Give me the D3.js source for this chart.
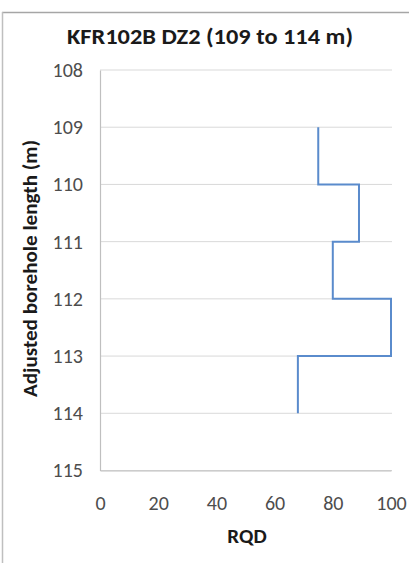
<!DOCTYPE html>
<html><head><meta charset="utf-8">
<script src="https://cdn.jsdelivr.net/npm/d3@7"></script>
<style>body{margin:0;background:#fff}svg{display:block}</style>
</head><body>
<svg id="c" width="409" height="563"></svg>
<script>
const depthFrom = [109, 110, 111, 112, 113];
const depthTo   = [110, 111, 112, 113, 114];
const rqd       = [75, 89, 80, 100, 68];
const yTicks = [108, 109, 110, 111, 112, 113, 114, 115];
const xTicks = [0, 20, 40, 60, 80, 100];
const title = "KFR102B DZ2 (109 to 114 m)";
const xTitle = "RQD";
const yTitle = "Adjusted borehole length (m)";

const svg = d3.select("#c");
const font = "Carlito, 'Open Sans', 'Liberation Sans', sans-serif";
const W = 409, H = 563;
const x = d3.scaleLinear().domain([0,100]).range([100, 391]);
const y = d3.scaleLinear().domain([108,115]).range([70, 470.5]);

// outer frame
svg.append("line").attr("x1",2).attr("x2",W).attr("y1",12.5).attr("y2",12.5).attr("stroke","#a6a6a6").attr("stroke-width",1.5);
svg.append("line").attr("x1",2.5).attr("x2",2.5).attr("y1",12).attr("y2",H).attr("stroke","#bfbfbf").attr("stroke-width",1.5);

// gridlines
svg.append("g").selectAll("line").data(yTicks).join("line")
  .attr("x1", x(0)).attr("x2", x(100)+1)
  .attr("y1", d=>y(d)).attr("y2", d=>y(d))
  .attr("stroke","#d9d9d9").attr("stroke-width",1);

// axes
const yAxis = svg.append("g").attr("transform",`translate(${x(0)},0)`)
  .call(d3.axisLeft(y).tickValues(yTicks).tickSize(0).tickPadding(17).tickFormat(d3.format("d")));
yAxis.select(".domain").attr("stroke","#bfbfbf").attr("stroke-width",1.2);
yAxis.selectAll("text").attr("font-family",font).attr("font-size",20).attr("fill","#4d4d4d");

const xAxis = svg.append("g").attr("transform",`translate(0,${y(115)})`)
  .call(d3.axisBottom(x).tickValues(xTicks).tickSize(0).tickPadding(25));
xAxis.select(".domain").attr("stroke","#bfbfbf").attr("stroke-width",1.2);
xAxis.selectAll("text").attr("font-family",font).attr("font-size",20).attr("fill","#4d4d4d");

// step line
const pts = [];
rqd.forEach((v,i)=>{ pts.push([v, depthFrom[i]]); pts.push([v, depthTo[i]]); });
svg.append("path").datum(pts)
  .attr("fill","none").attr("stroke","#5a8bcc").attr("stroke-width",2)
  .attr("d", d3.line().x(d=>x(d[0])).y(d=>y(d[1])));

// titles
svg.append("text").attr("x",210).attr("y",44).attr("text-anchor","middle")
  .attr("font-family",font).attr("font-weight","bold").attr("font-size",22)
  .attr("textLength",286).attr("lengthAdjust","spacingAndGlyphs")
  .attr("fill","#1a1a1a").text(title);
svg.append("text").attr("x",247).attr("y",543).attr("text-anchor","middle")
  .attr("font-family",font).attr("font-weight","bold").attr("font-size",21).attr("fill","#1a1a1a").text(xTitle);
svg.append("text").attr("transform","translate(37,268.5) rotate(-90)").attr("text-anchor","middle")
  .attr("font-family",font).attr("font-weight","bold").attr("font-size",21)
  .attr("textLength",257).attr("lengthAdjust","spacingAndGlyphs")
  .attr("fill","#1a1a1a").text(yTitle);
</script>
</body></html>
